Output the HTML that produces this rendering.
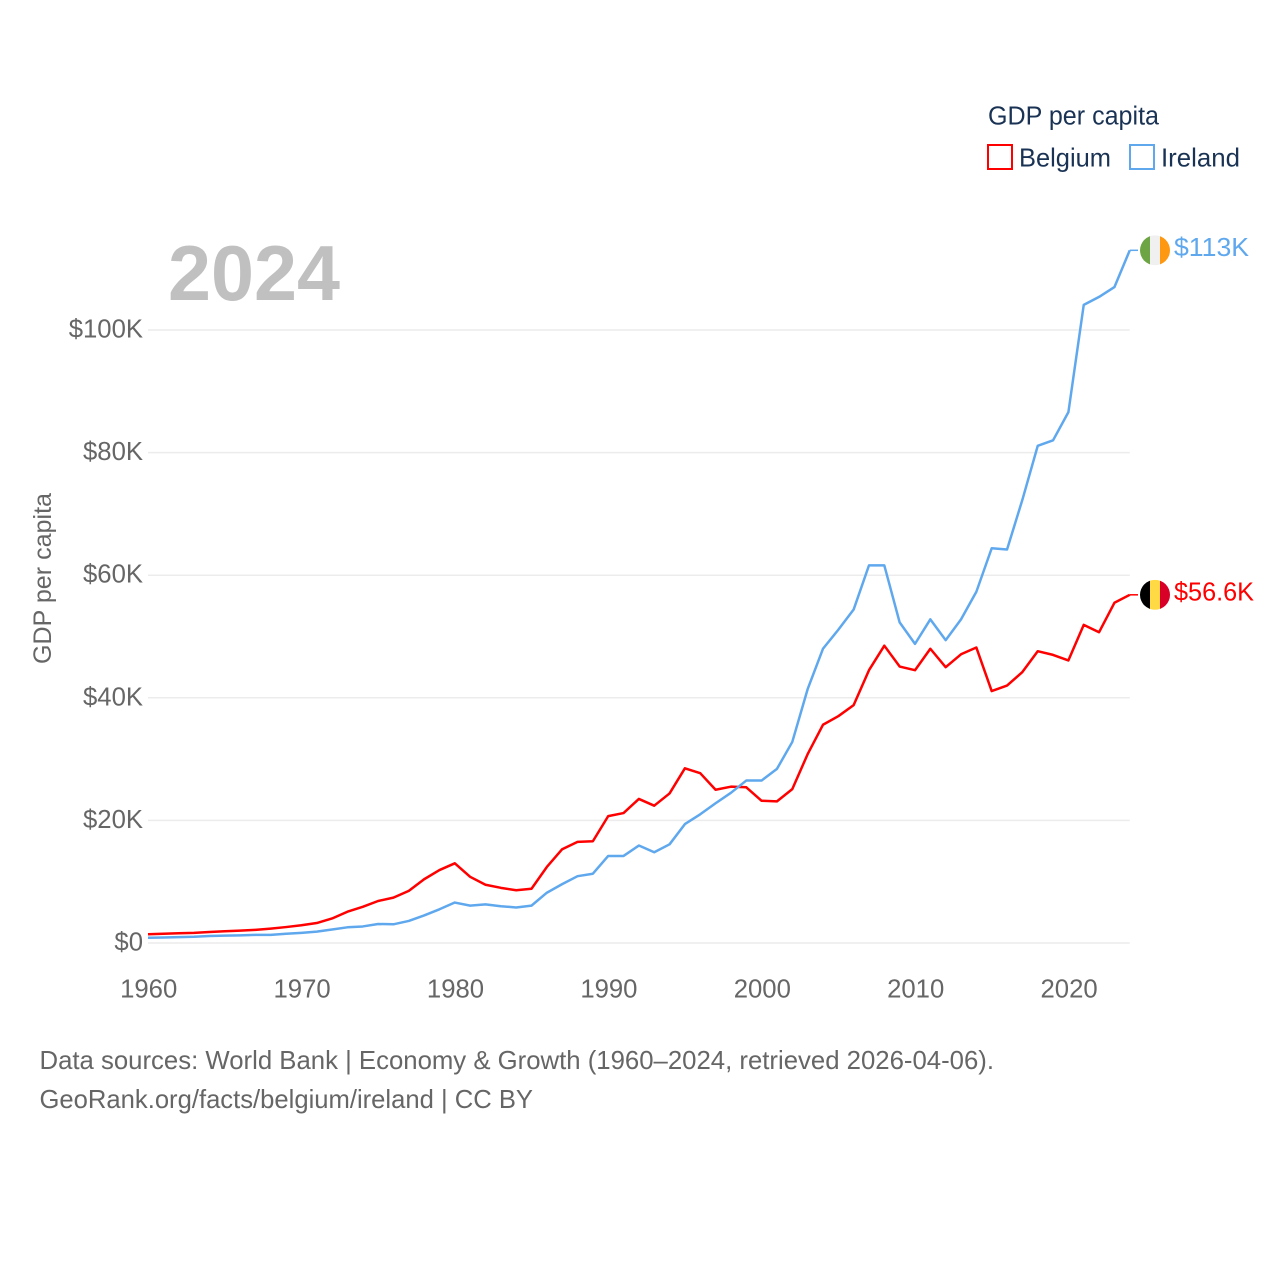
<!DOCTYPE html>
<html lang="en">
<head>
<meta charset="utf-8">
<title>GDP per capita: Belgium and Ireland</title>
<style>
  html, body { margin: 0; padding: 0; background: #fff; }
  svg { display: block; }
  text { font-family: "Liberation Sans", sans-serif; }
</style>
</head>
<body>
<svg id="chart" xmlns="http://www.w3.org/2000/svg" width="1280" height="1280" viewBox="0 0 1280 1280">
  <rect x="0" y="0" width="1280" height="1280" fill="#ffffff"/>
  <g id="grid"></g>
  <g id="y-axis"></g>
  <g id="x-axis"></g>
  <text x="168" y="300" font-size="78" font-weight="700" fill="#c0c0c0" textLength="172" lengthAdjust="spacingAndGlyphs">2024</text>
  <text transform="translate(51 578.5) rotate(-90)" text-anchor="middle" font-size="25" fill="#666666" textLength="171" lengthAdjust="spacingAndGlyphs">GDP per capita</text>
  <g id="series"></g>
  <g id="end-markers"></g>
  <g>
    <text x="988" y="124.5" font-size="25.5" fill="#1a3354" textLength="171" lengthAdjust="spacingAndGlyphs">GDP per capita</text>
    <g>
      <rect x="988" y="145" width="24" height="24" fill="none" stroke="#ff0000" stroke-width="2"/>
      <text x="1019" y="166.5" font-size="26" fill="#1a3354" textLength="92" lengthAdjust="spacingAndGlyphs">Belgium</text>
    </g>
    <g>
      <rect x="1130" y="145" width="24" height="24" fill="none" stroke="#5fa8ee" stroke-width="2"/>
      <text x="1161" y="166.5" font-size="26" fill="#1a3354" textLength="79" lengthAdjust="spacingAndGlyphs">Ireland</text>
    </g>
  </g>
  <text x="39.5" y="1069" font-size="26" fill="#666666" textLength="954.5" lengthAdjust="spacingAndGlyphs">Data sources: World Bank | Economy &amp; Growth (1960–2024, retrieved 2026-04-06).</text>
  <text x="39.5" y="1108" font-size="26" fill="#666666" textLength="493.5" lengthAdjust="spacingAndGlyphs">GeoRank.org/facts/belgium/ireland | CC BY</text>
</svg>
<script>
const startYear = 1960;
const xTickYears = [1960, 1970, 1980, 1990, 2000, 2010, 2020];
const yTickValues = [0, 20, 40, 60, 80, 100];
const yTickLabels = ["$0", "$20K", "$40K", "$60K", "$80K", "$100K"];
const belgiumValues = [1.42, 1.5, 1.58, 1.65, 1.8, 1.92, 2.02, 2.15, 2.35, 2.6, 2.9, 3.26, 4.0, 5.1, 5.9, 6.85, 7.4, 8.5, 10.4, 11.9, 13.0, 10.8, 9.5, 9.0, 8.6, 8.85, 12.4, 15.3, 16.5, 16.6, 20.7, 21.2, 23.5, 22.4, 24.4, 28.5, 27.7, 25.0, 25.5, 25.4, 23.2, 23.1, 25.1, 30.8, 35.6, 37.0, 38.8, 44.5, 48.5, 45.1, 44.5, 48.0, 45.0, 47.1, 48.2, 41.1, 42.0, 44.2, 47.6, 47.0, 46.1, 51.9, 50.7, 55.5, 56.8];
const irelandValues = [0.85, 0.9, 0.95, 1.02, 1.15, 1.2, 1.25, 1.32, 1.33, 1.5, 1.65, 1.85, 2.2, 2.56, 2.7, 3.1, 3.05, 3.6, 4.5, 5.5, 6.6, 6.1, 6.3, 6.0, 5.8, 6.1, 8.2, 9.6, 10.9, 11.3, 14.2, 14.2, 15.9, 14.8, 16.1, 19.4, 21.0, 22.8, 24.5, 26.5, 26.5, 28.4, 32.8, 41.4, 48.0, 51.1, 54.4, 61.6, 61.6, 52.3, 48.8, 52.8, 49.4, 52.8, 57.3, 64.4, 64.2, 72.3, 81.1, 82.0, 86.6, 104.1, 105.4, 107.0, 113.0];
const endLabelBelgium = "$56.6K";
const endLabelIreland = "$113K";

const SVG_NS = "http://www.w3.org/2000/svg";
const xScale = function (year) { return 148 + (year - startYear) * 15.34; };
const yScale = function (value) { return 943 - value * 6.13; };

function makeEl(tag, attrs, parent) {
  const el = document.createElementNS(SVG_NS, tag);
  Object.keys(attrs).forEach(function (key) { el.setAttribute(key, attrs[key]); });
  parent.appendChild(el);
  return el;
}

function linePath(values) {
  return values.map(function (v, i) {
    return (i ? "L" : "M") + xScale(startYear + i).toFixed(2) + " " + yScale(v).toFixed(2);
  }).join(" ");
}

const gridGroup = document.getElementById("grid");
const yAxisGroup = document.getElementById("y-axis");
const xAxisGroup = document.getElementById("x-axis");
const seriesGroup = document.getElementById("series");
const markerGroup = document.getElementById("end-markers");
const lastYear = startYear + belgiumValues.length - 1;

yTickValues.forEach(function (value, i) {
  const gridLine = makeEl("line", { x1: xScale(startYear), x2: xScale(lastYear), y1: yScale(value), y2: yScale(value), stroke: "#ececec", "stroke-width": 1.5 }, gridGroup);
  
  
  const label = makeEl("text", { x: 143, y: yScale(value) + 7.5, "text-anchor": "end", "font-size": 25.7, fill: "#666666" }, yAxisGroup);
  label.textContent = yTickLabels[i];
  
  
});

xTickYears.forEach(function (year) {
  const label = makeEl("text", { x: xScale(year) + 0.7, y: 997.5, "text-anchor": "middle", "font-size": 25.7, fill: "#666666" }, xAxisGroup);
  label.textContent = String(year);
  
  
});

const belgiumLine = makeEl("path", { d: linePath(belgiumValues), fill: "none", stroke: "#ff0000", "stroke-width": 2.5, "stroke-linejoin": "round" }, seriesGroup);



const irelandLine = makeEl("path", { d: linePath(irelandValues), fill: "none", stroke: "#5fa8ee", "stroke-width": 2.5, "stroke-linejoin": "round" }, seriesGroup);



function drawEndMarker(endValue, color, flagColors, clipId, labelText, labelWidth) {
  const cy = yScale(endValue);
  const cx = 1155;
  const group = makeEl("g", {}, markerGroup);
  makeEl("line", { x1: xScale(lastYear), x2: 1138, y1: cy, y2: cy, stroke: color, "stroke-width": 1.5 }, group);
  const defs = makeEl("defs", {}, group);
  const clip = makeEl("clipPath", { id: clipId }, defs);
  makeEl("circle", { cx: cx, cy: cy, r: 15 }, clip);
  const flag = makeEl("g", { "clip-path": "url(#" + clipId + ")" }, group);
  flagColors.forEach(function (c, i) {
    makeEl("rect", { x: cx - 15 + i * 10, y: cy - 15, width: 10.2, height: 30, fill: c }, flag);
  });
  const text = makeEl("text", { x: 1174, y: cy + 5.5, "font-size": 25.5, fill: color, textLength: labelWidth, lengthAdjust: "spacingAndGlyphs" }, group);
  text.textContent = labelText;
  return { group: group, flag: flag, text: text };
}

const belgiumMarker = drawEndMarker(belgiumValues[belgiumValues.length - 1], "#ff0000", ["#000000", "#ffda44", "#d80027"], "clip-flag-belgium", endLabelBelgium, 80);







const irelandMarker = drawEndMarker(irelandValues[irelandValues.length - 1], "#5fa8ee", ["#6da544", "#f0f0f0", "#ff9811"], "clip-flag-ireland", endLabelIreland, 75);






</script>
</body>
</html>
